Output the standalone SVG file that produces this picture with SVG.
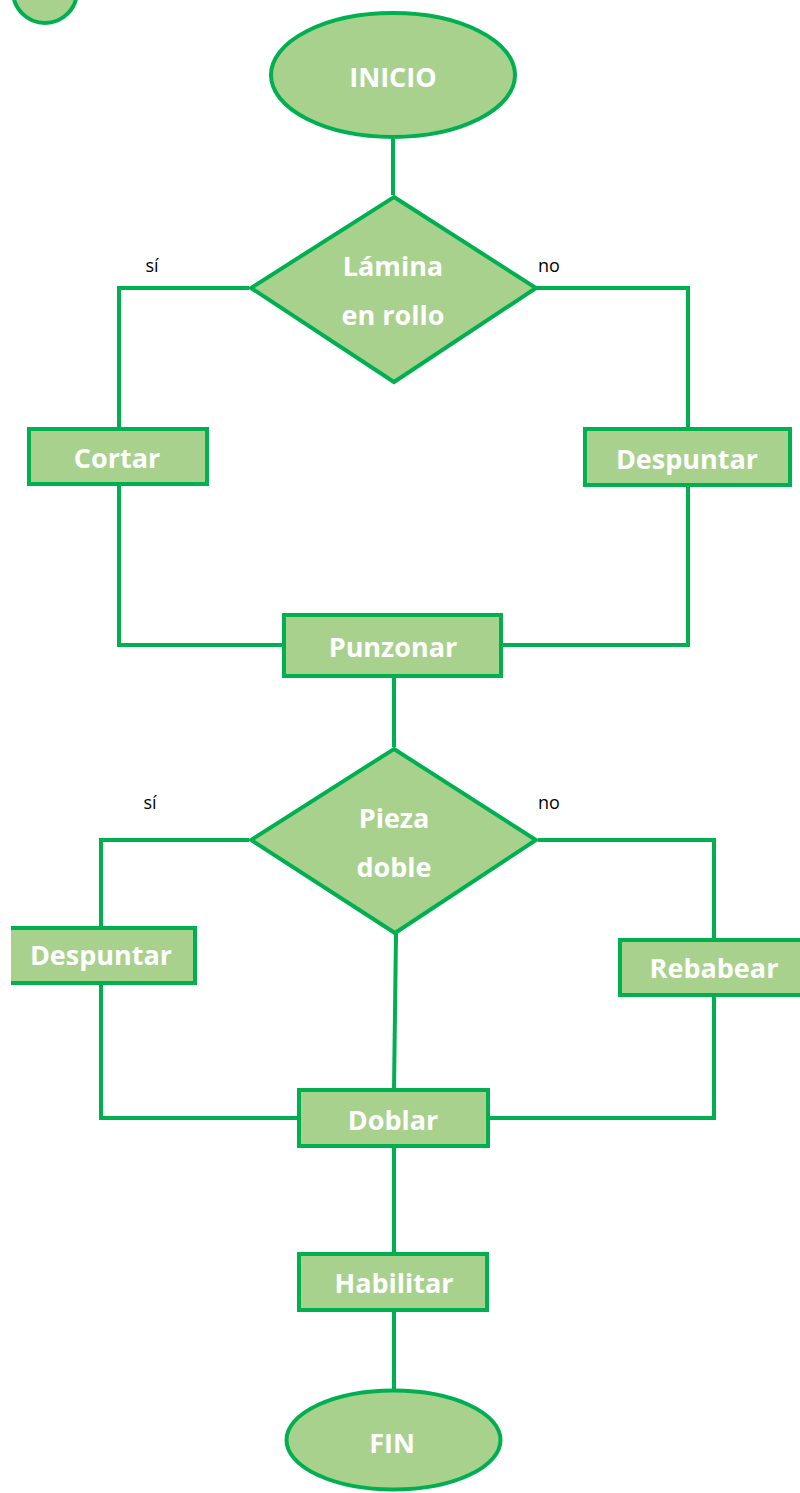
<svg xmlns="http://www.w3.org/2000/svg" width="800" height="1493" viewBox="0 0 800 1493">
<style>
.shape{fill:#A9D18E;stroke:#00B050;stroke-width:4}
.edge{fill:none;stroke:#00B050;stroke-width:4}
.lbl{font-family:"Open Sans","Liberation Sans",sans-serif;font-weight:bold;font-size:27px;fill:#fff;text-anchor:middle}
.cond{font-family:"Open Sans","Liberation Sans",sans-serif;font-size:18px;fill:#000;text-anchor:middle}
</style>
<rect width="800" height="1493" fill="#fff"/>
<g id="corner"><ellipse class="shape" cx="45" cy="-9" rx="32" ry="32"/></g>
<g id="connectors">
<path class="edge" d="M393,139 V195"/>
<path class="edge" d="M249,288 H119 V429"/>
<path class="edge" d="M537,288 H688 V429"/>
<path class="edge" d="M119,484 V645 H284"/>
<path class="edge" d="M688,487 V645 H501"/>
<path class="edge" d="M394,678 V747"/>
<path class="edge" d="M249,840 H101 V928"/>
<path class="edge" d="M538,840 H714 V940"/>
<path class="edge" d="M396,934 L394,1090"/>
<path class="edge" d="M101,983 V1118 H299"/>
<path class="edge" d="M714,995 V1118 H488"/>
<path class="edge" d="M394,1146 V1254"/>
<path class="edge" d="M394,1310 V1391"/>
</g>
<g id="inicio"><ellipse class="shape" cx="393" cy="75" rx="122" ry="62"/><text class="lbl" x="393" y="87">INICIO</text></g>
<g id="lamina"><polygon class="shape" points="394,197 536,288 394,382 251,288"/><text class="lbl" x="393" y="276">Lámina</text><text class="lbl" x="393" y="325">en rollo</text></g>
<text class="cond" x="152" y="272">sí</text>
<text class="cond" x="549" y="272">no</text>
<g id="cortar"><rect class="shape" x="29" y="429" width="178" height="55"/><text class="lbl" x="117" y="468">Cortar</text></g>
<g id="despuntar1"><rect class="shape" x="585" y="429" width="205" height="56"/><text class="lbl" x="687" y="469">Despuntar</text></g>
<g id="punzonar"><rect class="shape" x="284" y="615" width="217" height="61"/><text class="lbl" x="393" y="657">Punzonar</text></g>
<g id="pieza"><polygon class="shape" points="394,749 536,840 395,933 251,840"/><text class="lbl" x="394" y="828">Pieza</text><text class="lbl" x="394" y="877">doble</text></g>
<text class="cond" x="150" y="809">sí</text>
<text class="cond" x="549" y="809">no</text>
<g id="despuntar2"><rect x="11" y="928" width="184" height="55" fill="#A9D18E"/><path class="edge" d="M11,928 H195 V983 H11"/><text class="lbl" x="101" y="965">Despuntar</text></g>
<g id="rebabear"><rect class="shape" x="620" y="940" width="200" height="55"/><text class="lbl" x="714" y="978">Rebabear</text></g>
<g id="doblar"><rect class="shape" x="299" y="1090" width="189" height="56"/><text class="lbl" x="393" y="1130">Doblar</text></g>
<g id="habilitar"><rect class="shape" x="299" y="1254" width="188" height="56"/><text class="lbl" x="394" y="1293">Habilitar</text></g>
<g id="fin"><ellipse class="shape" cx="393.5" cy="1440" rx="107" ry="49.5"/><text class="lbl" x="392" y="1453">FIN</text></g>
</svg>
